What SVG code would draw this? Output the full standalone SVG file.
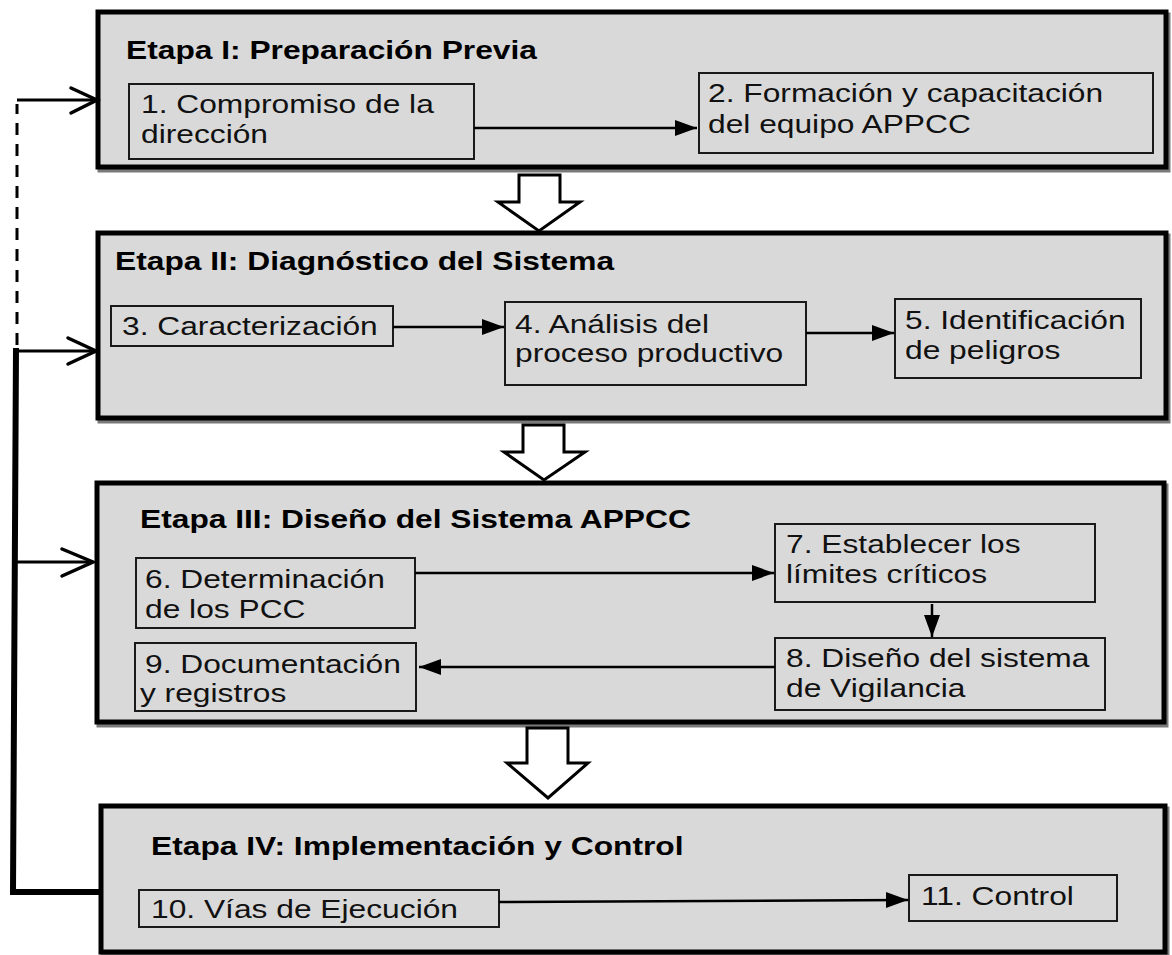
<svg xmlns="http://www.w3.org/2000/svg" width="1172" height="955" viewBox="0 0 1172 955">
<style>
.stage{fill:#d9d9d9;stroke:#000;stroke-width:5}
.shadow{fill:none;stroke:#7a7a7a;stroke-width:5}
.box{fill:#d9d9d9;stroke:#1a1a1a;stroke-width:2}
.t{font-family:"Liberation Sans",Arial,sans-serif;font-size:25px;fill:#111}
.h{font-family:"Liberation Sans",Arial,sans-serif;font-size:25px;font-weight:bold;fill:#000}
.hollow{fill:#fff;stroke:#000;stroke-width:3;stroke-linejoin:miter}
.c{fill:none;stroke:#000;stroke-width:2.5}
.fb{fill:none;stroke:#000;stroke-width:3}
.fbt{fill:none;stroke:#000;stroke-width:6;stroke-linejoin:miter}
.ch{fill:none;stroke:#000;stroke-width:3.5;stroke-linecap:round}
</style>
<defs>
<marker id="ah" markerUnits="userSpaceOnUse" markerWidth="24" markerHeight="18" refX="22" refY="8" orient="auto">
<path d="M0,0 L22,8 L0,16 z" fill="#000"/>
</marker>
</defs>
<rect width="1172" height="955" fill="#fff"/>

<g id="stage1">
<rect class="shadow" x="100" y="15" width="1068" height="155"/>
<rect class="stage" x="98" y="12" width="1068" height="155"/>
<text class="h" transform="translate(126,59) scale(1.27,1)">Etapa I: Preparación Previa</text>
</g>
<g id="stage2">
<rect class="shadow" x="100" y="236" width="1068" height="185"/>
<rect class="stage" x="98" y="233" width="1068" height="185"/>
<text class="h" transform="translate(115,270) scale(1.27,1)">Etapa II: Diagnóstico del Sistema</text>
</g>
<g id="stage3">
<rect class="shadow" x="99" y="486" width="1067" height="239"/>
<rect class="stage" x="97" y="483" width="1067" height="239"/>
<text class="h" transform="translate(140,528) scale(1.27,1)">Etapa III: Diseño del Sistema APPCC</text>
</g>
<g id="stage4">
<rect class="shadow" x="103" y="809" width="1064" height="146"/>
<rect class="stage" x="101" y="806" width="1064" height="146"/>
<text class="h" transform="translate(151,855) scale(1.27,1)">Etapa IV: Implementación y Control</text>
</g>

<g id="n1">
<rect class="box" x="129" y="84" width="345" height="75"/>
<text class="t" transform="translate(141,113) scale(1.27,1)"><tspan x="0" y="0">1. Compromiso de la</tspan><tspan x="0" y="30">dirección</tspan></text>
</g>
<g id="n2">
<rect class="box" x="699" y="73" width="454" height="80"/>
<text class="t" transform="translate(708,102) scale(1.27,1)"><tspan x="0" y="0">2. Formación y capacitación</tspan><tspan x="0" y="31">del equipo APPCC</tspan></text>
</g>
<g id="n3">
<rect class="box" x="111" y="306" width="282" height="40"/>
<text class="t" transform="translate(122,335) scale(1.27,1)">3. Caracterización</text>
</g>
<g id="n4">
<rect class="box" x="505" y="302" width="301" height="83"/>
<text class="t" transform="translate(515,333) scale(1.27,1)"><tspan x="0" y="0">4. Análisis del</tspan><tspan x="0" y="29">proceso productivo</tspan></text>
</g>
<g id="n5">
<rect class="box" x="895" y="299" width="246" height="79"/>
<text class="t" transform="translate(905,329) scale(1.27,1)"><tspan x="0" y="0">5. Identificación</tspan><tspan x="0" y="30">de peligros</tspan></text>
</g>
<g id="n6">
<rect class="box" x="136" y="558" width="279" height="70"/>
<text class="t" transform="translate(145,588) scale(1.27,1)"><tspan x="0" y="0">6. Determinación</tspan><tspan x="0" y="30">de los PCC</tspan></text>
</g>
<g id="n7">
<rect class="box" x="775" y="524" width="320" height="78"/>
<text class="t" transform="translate(786,553) scale(1.27,1)"><tspan x="0" y="0">7. Establecer los</tspan><tspan x="0" y="30">límites críticos</tspan></text>
</g>
<g id="n8">
<rect class="box" x="775" y="638" width="330" height="72"/>
<text class="t" transform="translate(786,667) scale(1.27,1)"><tspan x="0" y="0">8. Diseño del sistema</tspan><tspan x="0" y="30">de Vigilancia</tspan></text>
</g>
<g id="n9">
<rect class="box" x="135" y="643" width="281" height="68"/>
<text class="t" transform="translate(145,673) scale(1.27,1)"><tspan x="0" y="0">9. Documentación</tspan><tspan x="-4" y="29">y registros</tspan></text>
</g>
<g id="n10">
<rect class="box" x="139" y="890" width="360" height="37"/>
<text class="t" transform="translate(151,918) scale(1.27,1)">10. Vías de Ejecución</text>
</g>
<g id="n11">
<rect class="box" x="909" y="875" width="208" height="46"/>
<text class="t" transform="translate(921,905) scale(1.27,1)">11. Control</text>
</g>

<g id="connectors">
<polygon class="hollow" points="519,175 560,175 560,202 580,202 539,231 498,202 519,202"/>
<polygon class="hollow" points="523,425 564,425 564,452 585,452 544,480 504,452 523,452"/>
<polygon class="hollow" points="527,728 568,728 568,763 588,763 548,798 507,763 527,763"/>
<path class="c" d="M474,128 H697" marker-end="url(#ah)"/>
<path class="c" d="M393,327 H504" marker-end="url(#ah)"/>
<path class="c" d="M806,333 H894" marker-end="url(#ah)"/>
<path class="c" d="M415,573 H774" marker-end="url(#ah)"/>
<path class="c" d="M932,604 V637" marker-end="url(#ah)"/>
<path class="c" d="M775,667 H419" marker-end="url(#ah)"/>
<path class="c" d="M499,902 L908,900" marker-end="url(#ah)"/>
<path class="fbt" d="M100,892 H13 L16,348"/>
<path class="fb" d="M16,351 H96"/>
<polyline class="ch" points="68,338 96,351 68,364"/>
<path class="fb" d="M14,562 H93"/>
<polyline class="ch" points="62,549 93,562 62,576"/>
<path class="fb" d="M17,345 V104" stroke-dasharray="12 9"/>
<path class="fb" d="M17,100 H97"/>
<polyline class="ch" points="71,88 97,100 71,113"/>
</g>
</svg>
